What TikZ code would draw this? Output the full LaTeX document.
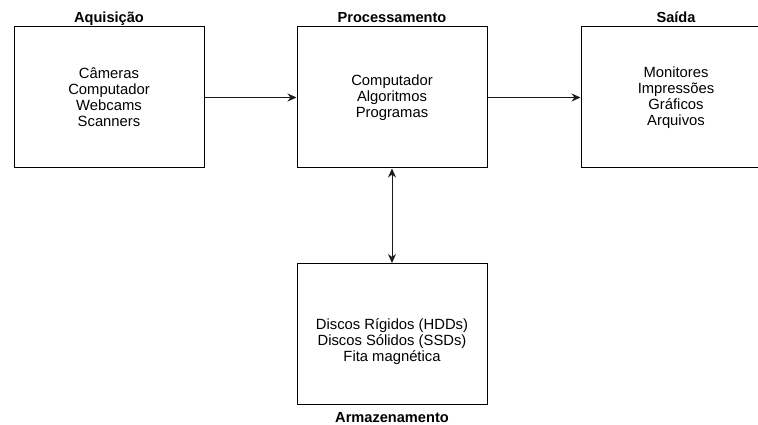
\documentclass[tikz,border=0pt]{standalone}
\usepackage{fontspec}
\setmainfont{Liberation Sans}
\usetikzlibrary{arrows.meta,positioning}
\definecolor{Ink}{HTML}{000000}
\definecolor{Wire}{HTML}{1A1A1A}

\begin{document}
\begin{tikzpicture}[x=1pt,y=-1pt,
  box/.style={draw=Ink,line width=1pt,minimum width=190pt,minimum height=141pt,
    inner sep=0pt,align=center,font=\fontsize{14.8}{16}\selectfont},
  title/.style={font=\fontsize{14.6}{16}\selectfont\bfseries,
    text height=0.75em,text depth=0.25em,inner sep=2pt},
  link/.style={draw=Wire,line width=1pt,-{Stealth[length=9pt,width=8pt,inset=3pt]}}]
  \useasboundingbox (0,0) rectangle (758,425);
  \clip (0,0) rectangle (758,425);
  % stages
  \node[box,label={[title,label distance=-1pt]above:Aquisição}] (acq) at (109,97.5)
    {Câmeras\\Computador\\Webcams\\Scanners};
  \node[box,label={[title,label distance=-1pt]above:Processamento}] (proc) at (392,97.5)
    {Computador\\Algoritmos\\Programas};
  \node[box,label={[title,label distance=-1pt]above:Saída}] (out) at (676,97.5)
    {Monitores\\Impressões\\Gráficos\\Arquivos};
  \node[box,label={[title,label distance=8pt]below:Armazenamento},
    label={[align=center,font=\fontsize{14.8}{16}\selectfont,yshift=-8pt]center:Discos Rígidos (HDDs)\\Discos Sólidos (SSDs)\\Fita magnética}]
    (store) at (392,334) {};
  % flow
  \draw[link] (acq.east) -- (proc.west);
  \draw[link] (proc.east) -- (out.west);
  \draw[link,{Stealth[length=9pt,width=8pt,inset=3pt]}-{Stealth[length=9pt,width=8pt,inset=3pt]}] (proc.south) -- (store.north);
\end{tikzpicture}
\end{document}
